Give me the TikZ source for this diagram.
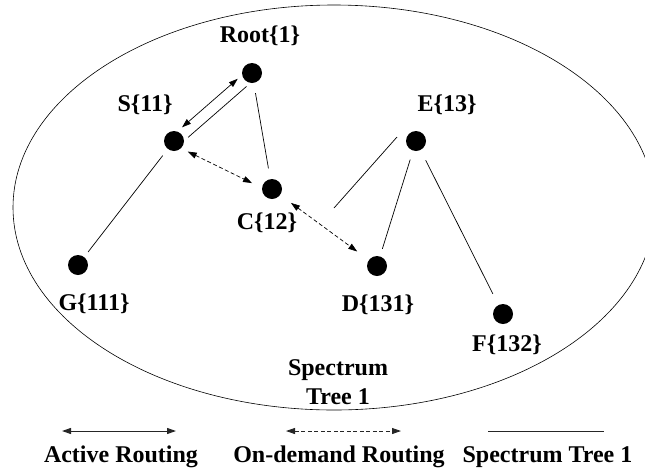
\documentclass[tikz,border=0pt]{standalone}
\usepackage{fontspec}
\setmainfont{Liberation Serif}
\usetikzlibrary{arrows.meta}
\begin{document}
\begin{tikzpicture}[x=1pt,y=-1pt,
  dot/.style={circle,fill=black,minimum size=20pt,inner sep=0pt,outer sep=0pt},
  lbl/.style={font=\fontsize{24}{29}\selectfont\bfseries,inner sep=0pt,align=center},
  tip/.tip={Triangle[length=9pt,width=6pt]},
  tree/.style={line width=0.7pt},
  active/.style={line width=0.7pt,tip-tip},
  ondemand/.style={line width=0.7pt,dash pattern=on 4pt off 2.5pt,tip-tip},
  legendline/.style={line width=1pt,black!85},
]
\useasboundingbox (0,0) rectangle (645,472);
\clip (0,0) rectangle (645,472);

% spectrum tree boundary
\draw[line width=0.6pt] (334,207.5) ellipse [x radius=321pt, y radius=202.5pt];

% nodes
\node[dot] (R) at (252,73) {};
\node[dot] (S) at (174,141) {};
\node[dot] (E) at (416,141) {};
\node[dot] (C) at (272,189) {};
\node[dot] (G) at (78,265) {};
\node[dot] (D) at (377,266) {};
\node[dot] (F) at (503,314) {};

% node labels
\node[lbl] (Rl) at (260,36) {Root\{1\}};
\node[lbl] (Sl) at (145,105) {S\{11\}};
\node[lbl] (El) at (447,105) {E\{13\}};
\node[lbl] (Cl) at (267,223) {C\{12\}};
\node[lbl] (Gl) at (94,304) {G\{111\}};
\node[lbl] (Dl) at (378,305) {D\{131\}};
\node[lbl] (Fl) at (507,345) {F\{132\}};
\node[lbl] (T) at (338,382) {Spectrum\\Tree 1};

% spectrum tree edges
\draw[tree, transform canvas={shift={(4.3pt,-4.9pt)}}, shorten <=3pt, shorten >=3pt] (S) -- (R);
\draw[tree, shorten <=10.5pt, shorten >=11pt] (R) -- (C);
\draw[tree, shorten <=8.5pt, shorten >=6.5pt] (S) -- (G);
\draw[tree, shorten <=9.5pt, shorten >=8pt] (E) -- (D);
\draw[tree, shorten <=11.5pt, shorten >=12.5pt] (E) -- (F);
\coordinate (e1) at (397,137);
\coordinate (e2) at (334,208);
\draw[tree] (e1) -- (e2);

% active routing
\draw[active, transform canvas={shift={(-3.3pt,3.8pt)}}, shorten <=5pt, shorten >=4.5pt] (S) -- (R);

% on-demand routing
\draw[ondemand, transform canvas={shift={(-1.5pt,-3.1pt)}}, shorten <=7pt, shorten >=10.5pt] (S) -- (C);
\draw[ondemand, shorten <=13.5pt, shorten >=14.5pt] (C) -- (D);

% legend
\coordinate (a1) at (62,431);
\coordinate (a2) at (176,431);
\coordinate (b1) at (286,431);
\coordinate (b2) at (401,431);
\coordinate (c1) at (488,431);
\coordinate (c2) at (604,431);
\draw[active, line width=1pt, black!85] (a1) -- (a2);
\draw[ondemand, line width=0.8pt, black!85] (b1) -- (b2);
\draw[legendline] (c1) -- (c2);
\node[lbl] (La) at (121,457) {Active Routing};
\node[lbl] (Lb) at (339,457) {On-demand Routing};
\node[lbl] (Lc) at (547.5,457) {Spectrum Tree 1};
\end{tikzpicture}
\end{document}
